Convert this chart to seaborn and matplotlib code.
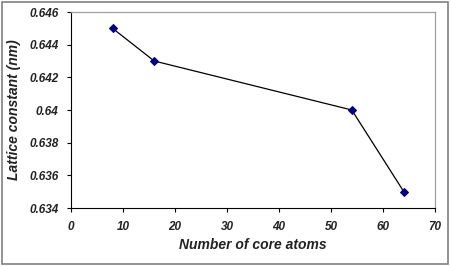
import matplotlib
matplotlib.use("Agg")
import matplotlib.pyplot as plt
import seaborn as sns
import pandas as pd
from matplotlib.patches import Rectangle

# values
core_atoms = [8, 16, 54, 64]
lattice_nm = [0.645, 0.643, 0.640, 0.635]
x_ticks = [0, 10, 20, 30, 40, 50, 60, 70]
y_ticks = [0.634, 0.636, 0.638, 0.64, 0.642, 0.644, 0.646]
y_labels = ["0.634", "0.636", "0.638", "0.64", "0.642", "0.644", "0.646"]

df = pd.DataFrame({"atoms": core_atoms, "a": lattice_nm})

sns.set_style("white")
plt.rcParams["font.family"] = ["Liberation Sans", "DejaVu Sans"]

fig = plt.figure(figsize=(4.51, 2.66), dpi=100)
ax = fig.add_axes([71 / 451, 1 - 208 / 266, (435 - 71) / 451, (208 - 12) / 266])

sns.lineplot(data=df, x="atoms", y="a", ax=ax, color="black", linewidth=0.9,
             marker="D", markersize=4.5, markerfacecolor="#00008b",
             markeredgecolor="#00008b")

tick_font = dict(fontsize=8.5, fontweight="bold", fontstyle="italic", color="#222222")
ax.set_xlim(0, 70)
ax.set_ylim(0.634, 0.646)
ax.set_xticks(x_ticks)
ax.set_xticklabels([str(t) for t in x_ticks], **tick_font)
ax.set_yticks(y_ticks)
ax.set_yticklabels(y_labels, **tick_font)
ax.tick_params(axis="both", direction="out", length=3, width=0.8, color="black",
               pad=6, left=True, bottom=True)

ax.set_xlabel("Number of core atoms", fontsize=10, fontweight="bold",
              fontstyle="italic", color="#222222", labelpad=4)
ax.set_ylabel("Lattice constant (nm)", fontsize=10, fontweight="bold",
              fontstyle="italic", color="#222222", labelpad=6)

for side in ["left", "bottom"]:
    ax.spines[side].set_color("black")
    ax.spines[side].set_linewidth(0.8)
for side in ["top", "right"]:
    ax.spines[side].set_color("#a0a0a0")
    ax.spines[side].set_linewidth(0.9)

# outer chart frame
fig.patches.append(Rectangle((0.004, 0.008), 0.99, 0.985, transform=fig.transFigure,
                             fill=False, edgecolor="#808080", linewidth=1.2))

fig.savefig("out.png", dpi=100)
